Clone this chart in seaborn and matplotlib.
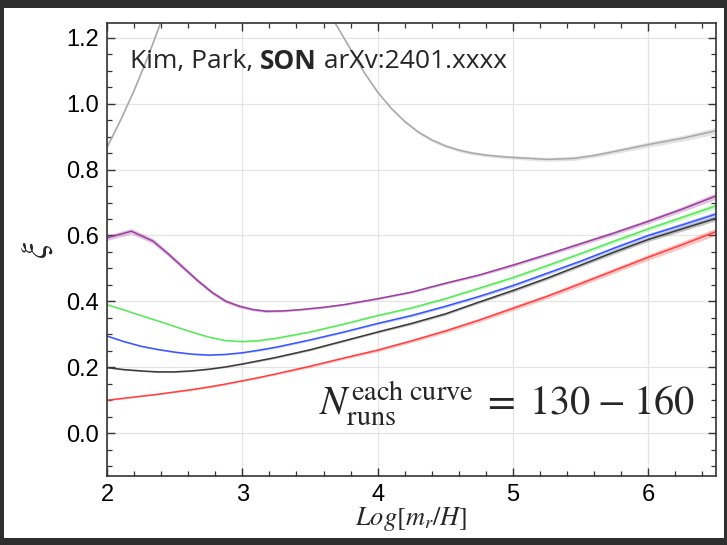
import numpy as np
import pandas as pd
import matplotlib
matplotlib.use('Agg')
import matplotlib.pyplot as plt
from matplotlib.patches import Rectangle
from matplotlib.ticker import MultipleLocator
import seaborn as sns

sns.set_style('white')
plt.rcParams['font.family'] = ['Liberation Sans', 'DejaVu Sans']
plt.rcParams['mathtext.fontset'] = 'stix'

# common x grid for the smooth curves
x_grid = [2.0, 2.125, 2.25, 2.375, 2.5, 2.625, 2.75, 2.875, 3.0, 3.125, 3.25,
          3.5, 3.75, 4.0, 4.25, 4.5, 4.75, 5.0, 5.25, 5.5, 5.75, 6.0, 6.25, 6.5]

red_y = [0.100, 0.106, 0.112, 0.118, 0.125, 0.132, 0.140, 0.149, 0.159, 0.169,
         0.180, 0.203, 0.228, 0.252, 0.280, 0.310, 0.343, 0.379, 0.415, 0.454,
         0.494, 0.534, 0.572, 0.612]
black_y = [0.199, 0.193, 0.189, 0.186, 0.186, 0.189, 0.194, 0.201, 0.210, 0.220,
           0.230, 0.253, 0.280, 0.307, 0.333, 0.362, 0.398, 0.433, 0.470, 0.510,
           0.550, 0.588, 0.620, 0.652]
blue_y = [0.295, 0.278, 0.264, 0.254, 0.246, 0.240, 0.237, 0.239, 0.244, 0.252,
          0.261, 0.283, 0.307, 0.333, 0.357, 0.385, 0.415, 0.448, 0.485, 0.522,
          0.562, 0.600, 0.632, 0.665]
green_y = [0.390, 0.374, 0.357, 0.341, 0.324, 0.307, 0.292, 0.281, 0.278, 0.281,
           0.288, 0.307, 0.331, 0.357, 0.380, 0.408, 0.440, 0.472, 0.508, 0.545,
           0.583, 0.620, 0.655, 0.690]

red_err = [0.002, 0.002, 0.002, 0.002, 0.002, 0.003, 0.003, 0.003, 0.003, 0.003,
           0.003, 0.004, 0.004, 0.005, 0.005, 0.006, 0.006, 0.007, 0.007, 0.008,
           0.008, 0.009, 0.010, 0.011]
black_err = [0.002, 0.002, 0.002, 0.002, 0.002, 0.002, 0.002, 0.002, 0.002, 0.003,
             0.003, 0.003, 0.003, 0.003, 0.004, 0.004, 0.004, 0.005, 0.005, 0.005,
             0.006, 0.006, 0.007, 0.007]
blue_err = [0.002, 0.002, 0.002, 0.002, 0.002, 0.002, 0.002, 0.002, 0.002, 0.003,
            0.003, 0.003, 0.003, 0.003, 0.004, 0.004, 0.004, 0.005, 0.005, 0.005,
            0.006, 0.006, 0.007, 0.008]
green_err = [0.002, 0.002, 0.002, 0.002, 0.002, 0.002, 0.002, 0.002, 0.002, 0.003,
             0.003, 0.003, 0.003, 0.003, 0.004, 0.004, 0.004, 0.005, 0.005, 0.005,
             0.006, 0.006, 0.007, 0.008]

purple_x = [2.0, 2.18, 2.34, 2.45, 2.56, 2.67, 2.78, 2.88, 2.98, 3.08, 3.18, 3.3,
            3.43, 3.6, 3.75, 4.0, 4.25, 4.5, 4.75, 5.0, 5.25, 5.5, 5.75, 6.0,
            6.25, 6.5]
purple_y = [0.593, 0.613, 0.583, 0.545, 0.504, 0.463, 0.426, 0.400, 0.385, 0.375,
            0.370, 0.371, 0.375, 0.382, 0.390, 0.408, 0.428, 0.455, 0.480, 0.510,
            0.542, 0.575, 0.608, 0.643, 0.680, 0.720]
purple_err = [0.008, 0.008, 0.008, 0.007, 0.007, 0.006, 0.006, 0.005, 0.005, 0.004,
              0.004, 0.003, 0.003, 0.003, 0.003, 0.003, 0.003, 0.004, 0.004, 0.005,
              0.005, 0.006, 0.006, 0.007, 0.008, 0.010]

gray_x = [2.0, 2.1, 2.2, 2.3, 2.4, 2.6, 2.8, 3.0, 3.2, 3.4, 3.6, 3.7, 3.8, 3.9,
          4.0, 4.1, 4.2, 4.3, 4.4, 4.5, 4.6, 4.7, 4.8, 4.9, 5.0, 5.25, 5.45,
          5.6, 5.75, 6.0, 6.25, 6.5]
gray_y = [0.868, 0.950, 1.040, 1.140, 1.250, 1.450, 1.580, 1.620, 1.560, 1.420,
          1.300, 1.235, 1.165, 1.095, 1.035, 0.986, 0.946, 0.914, 0.890, 0.872,
          0.859, 0.850, 0.844, 0.840, 0.837, 0.831, 0.834, 0.843, 0.855, 0.876,
          0.895, 0.918]
gray_err = [0.004] * 17 + [0.005] * 8 + [0.006, 0.006, 0.006, 0.007, 0.008,
                                          0.009, 0.010]

curves = [
    ('gray', gray_x, gray_y, gray_err, '#a8a8a8'),
    ('red', x_grid, red_y, red_err, '#ff4040'),
    ('black', x_grid, black_y, black_err, '#3a3a3a'),
    ('blue', x_grid, blue_y, blue_err, '#3a56ff'),
    ('green', x_grid, green_y, green_err, '#5ae85a'),
    ('purple', purple_x, purple_y, purple_err, '#9a3d9e'),
]

frames = []
for name, xs, ys, es, col in curves:
    frames.append(pd.DataFrame({'x': xs, 'y': ys, 'err': es, 'curve': name}))
df = pd.concat(frames, ignore_index=True)
palette = {name: col for name, xs, ys, es, col in curves}

fig = plt.figure(figsize=(7.27, 5.45), dpi=100, facecolor='#2e2e2e')
# white card inside the dark frame
fig.patches.append(Rectangle((4 / 727, 7 / 545), 720 / 727, 530 / 545,
                             transform=fig.transFigure, facecolor='white',
                             edgecolor='none', zorder=-10))
ax = fig.add_axes([107 / 727, 1 - 476 / 545, 609 / 727, 453 / 545])
ax.set_facecolor('white')

for name, xs, ys, es, col in curves:
    lo = np.array(ys) - np.array(es)
    hi = np.array(ys) + np.array(es)
    ax.fill_between(xs, lo, hi, color=col, alpha=0.3, lw=0)

sns.lineplot(data=df, x='x', y='y', hue='curve', palette=palette,
             hue_order=[c[0] for c in curves], sort=False, estimator=None,
             lw=1.1, legend=False, ax=ax)

ax.set_xlim(2, 6.5)
ax.set_ylim(-0.13, 1.245)
ax.xaxis.set_major_locator(MultipleLocator(1))
ax.xaxis.set_minor_locator(MultipleLocator(0.2))
ax.yaxis.set_major_locator(MultipleLocator(0.2))
ax.yaxis.set_minor_locator(MultipleLocator(0.05))
ax.set_yticks([0.0, 0.2, 0.4, 0.6, 0.8, 1.0, 1.2])
ax.set_yticklabels(['0.0', '0.2', '0.4', '0.6', '0.8', '1.0', '1.2'])
ax.grid(True, which='major', color='#e4e4e4', lw=0.9)
ax.tick_params(which='both', direction='in', bottom=True, left=True,
               top=True, right=True, color='#333333', labelsize=17,
               labelcolor='black')
ax.tick_params(which='major', length=6, width=1.0, pad=6)
ax.tick_params(which='minor', length=3.5, width=0.9)
for sp in ax.spines.values():
    sp.set_color('#333333')
    sp.set_linewidth(1.2)

ax.set_xlabel(r'$Log[m_r/H]$', fontsize=19, labelpad=-1)
ax.set_ylabel(r'$\xi$', fontsize=26, labelpad=8)

ty = 0.914
t1 = ax.text(0.038, ty, 'Kim, Park, ', transform=ax.transAxes, fontsize=19,
             family='Open Sans', ha='left', va='center')
fig.canvas.draw()
bb = t1.get_window_extent().transformed(ax.transAxes.inverted())
t2 = ax.text(bb.x1, ty, 'SON', transform=ax.transAxes, fontsize=19,
             family='Open Sans', weight='bold', ha='left', va='center')
fig.canvas.draw()
bb2 = t2.get_window_extent().transformed(ax.transAxes.inverted())
ax.text(bb2.x1, ty, ' arXv:2401.xxxx', transform=ax.transAxes, fontsize=19,
        family='Open Sans', ha='left', va='center')

ax.text(0.965, 0.16,
        r'$N_{\mathrm{runs}}^{\mathrm{each\ curve}}\;=\;130\;{-}\;160$',
        transform=ax.transAxes, fontsize=29, ha='right', va='center')

fig.savefig('out.png', dpi=100, facecolor=fig.get_facecolor())
